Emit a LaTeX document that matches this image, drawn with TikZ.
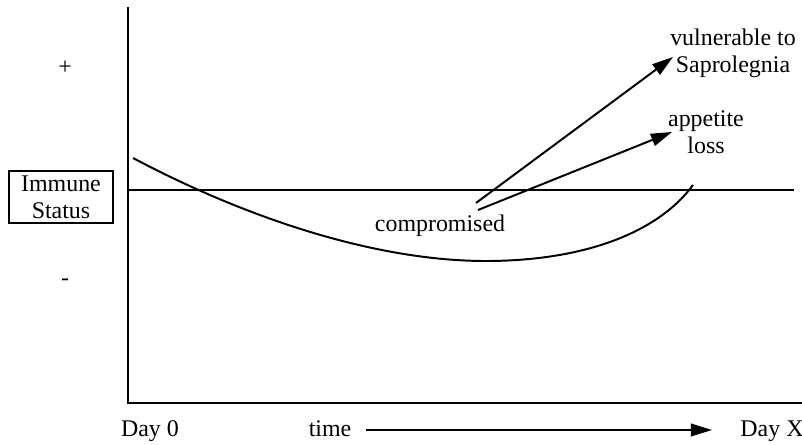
\documentclass[tikz,border=0pt]{standalone}
\usepackage{fontspec}
\setmainfont{Liberation Serif}
\usepackage{tikz}
\usetikzlibrary{
  arrows.meta,
  positioning,
  calc
}
\tikzset{
  axisline/.style={line width=1.4pt},
  label/.style={font=\fontsize{17}{19}\selectfont, align=center, inner sep=1pt},
  pointer/.style={line width=1.4pt, -{Triangle[length=15pt, width=9pt]}}
}

\begin{document}
\begin{tikzpicture}[x=0.025cm, y=-0.025cm]
  \useasboundingbox (0,0) rectangle (802,445);
  % axes
  \coordinate (top) at (128,7);
  \coordinate (origin) at (128,403);
  \coordinate (xend) at (802,403);
  \coordinate (zl) at (128,190);
  \coordinate (zr) at (794,190);
  \draw[axisline] (top) -- (origin) -- (xend);
  \draw[axisline] (zl) -- (zr);
  % y labels
  \node[label] (plus) at (65,68) {+};
  \node[label] (minus) at (65,282) {-};
  \node[label, draw, line width=1.4pt, minimum width=2.62cm, minimum height=1.3cm, inner sep=0pt] (immune) at (61,197) {Immune\\Status};
  % immune curve
  \draw[line width=1.4pt] (133,158) .. controls (250,220) and (380,262) .. (490,261)
    .. controls (590,260) and (660,230) .. (693,185);
  % effects
  \node[label] (comp) at (440,226) {compromised};
  \node[label] (vul) at (733,53) {vulnerable to\\Saprolegnia};
  \node[label] (app) at (706,132) {appetite\\loss};
  \coordinate (vs) at (476,203);
  \coordinate (as) at (478,210);
  \coordinate (vt) at (673,57);
  \coordinate (at) at (672,132);
  \draw[pointer] (vs) -- (vt);
  \draw[pointer] (as) -- (at);
  % time axis
  \node[label, anchor=base] (day0) at (150,436) {Day 0};
  \node[label, anchor=base] (time) at (330,436) {time};
  \node[label, anchor=base] (dayx) at (772,436) {Day X};
  \coordinate (ts) at (366,430);
  \coordinate (te) at (712,430);
  \draw[pointer] (ts) -- (te);
\end{tikzpicture}
\end{document}
